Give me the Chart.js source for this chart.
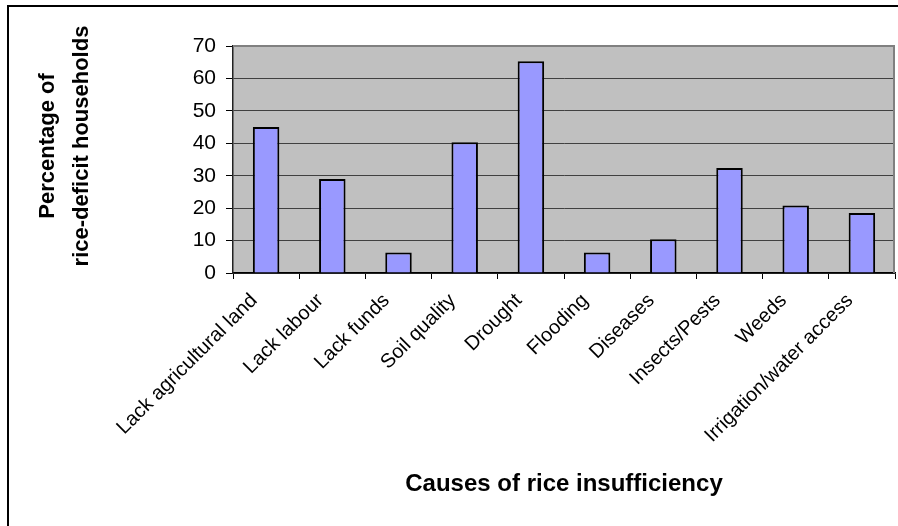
<!DOCTYPE html>
<html>
<head>
<meta charset="utf-8">
<script src="https://cdn.jsdelivr.net/npm/chart.js@4.4.1/dist/chart.umd.min.js"></script>
<style>
  html, body { margin: 0; padding: 0; background: #fff; overflow: hidden; }
  #wrap  { position: relative; width: 898px; height: 526px; overflow: hidden; }
  #frame { position: absolute; left: 7px; top: 5px; width: 1000px; height: 1000px; border: 2px solid #000; }
  #chart { position: absolute; left: 0; top: 0; }
</style>
</head>
<body>
<div id="wrap">
  <div id="frame"></div>
  <canvas id="chart" width="898" height="526"></canvas>
</div>
<script>
// ── Data ────────────────────────────────────────────────────
const causes = [
  'Lack agricultural land', 'Lack labour', 'Lack funds', 'Soil quality', 'Drought',
  'Flooding', 'Diseases', 'Insects/Pests', 'Weeds', 'Irrigation/water access'
];
const householdPct = [45, 29, 6.3, 40.3, 65.3, 6.3, 10.4, 32.4, 20.8, 18.5];

const yMin  = 0;
const yMax  = 70;
const yStep = 10;

const xTitle = 'Causes of rice insufficiency';
const yTitle = ['Percentage of', 'rice-deficit households'];

// ── Style ───────────────────────────────────────────────────
const FONT = '"Liberation Sans", Arial, sans-serif';

// plot background + grey frame on top/right, like the old Excel look
const plotFrame = {
  id: 'plotFrame',
  beforeDraw(chart) {
    const { ctx, chartArea: a } = chart;
    ctx.save();
    ctx.fillStyle = '#c0c0c0';
    ctx.fillRect(a.left, a.top, a.right - a.left, a.bottom - a.top);
    ctx.restore();
  },
  afterDatasetsDraw(chart) {
    const { ctx, chartArea: a } = chart;
    ctx.save();
    ctx.strokeStyle = '#808080';
    ctx.lineWidth = 2;
    ctx.beginPath();
    ctx.moveTo(a.left, a.top);
    ctx.lineTo(a.right - 1, a.top);
    ctx.lineTo(a.right - 1, a.bottom);
    ctx.stroke();
    ctx.restore();
  }
};

// y title sits a bit above the plot centre, so draw it by hand
const yTitlePlugin = {
  id: 'yTitle',
  afterDraw(chart) {
    const { ctx } = chart;
    ctx.save();
    ctx.translate(48, 146);
    ctx.rotate(-Math.PI / 2);
    ctx.font = 'bold 22px ' + FONT;
    ctx.fillStyle = '#000';
    ctx.textAlign = 'center';
    ctx.textBaseline = 'middle';
    yTitle.forEach((line, i) => ctx.fillText(line, 0, i * 34));
    ctx.restore();
  }
};

// ── Chart ───────────────────────────────────────────────────
new Chart(document.getElementById('chart'), {
  type: 'bar',
  data: {
    labels: causes,
    datasets: [{
      data: householdPct,
      backgroundColor: '#9999ff',
      borderColor: '#000',
      borderWidth: 2,
      categoryPercentage: 1,
      barPercentage: 0.4
    }]
  },
  options: {
    responsive: false,
    animation: false,
    devicePixelRatio: 1,
    layout: { padding: { left: 10, top: 46, right: 3, bottom: 0 } },
    plugins: { legend: { display: false }, tooltip: { enabled: false } },
    scales: {
      x: {
        grid: { offset: true, drawOnChartArea: false, tickLength: 6, tickColor: '#000' },
        border: { color: '#000', width: 1.5 },
        ticks: {
          autoSkip: false, maxRotation: 45, minRotation: 45, padding: 10, labelOffset: -12,
          color: '#000', font: { family: FONT, size: 20 }
        },
        title: {
          display: true, text: xTitle, color: '#000',
          font: { family: FONT, size: 24, weight: 'bold' },
          padding: { top: 0, bottom: 27 }
        },
        afterFit(scale) { scale.height = 253; }
      },
      y: {
        min: yMin, max: yMax,
        grid: { color: '#404040', tickLength: 7, tickColor: '#000' },
        border: { color: '#222', width: 1.5 },
        ticks: {
          stepSize: yStep, padding: 10,
          color: '#000', font: { family: FONT, size: 21 }
        },
        afterFit(scale) { scale.width = 223; }
      }
    }
  },
  plugins: [plotFrame, yTitlePlugin]
});
</script>
</body>
</html>
